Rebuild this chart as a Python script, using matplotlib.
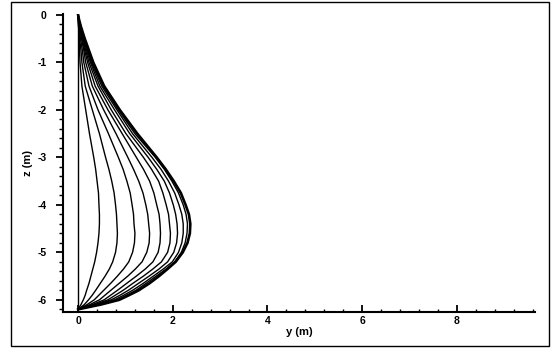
import matplotlib
matplotlib.use("Agg")
import matplotlib.pyplot as plt
from matplotlib.patches import Rectangle
from matplotlib.ticker import MultipleLocator

plt.rcParams['font.family'] = ['Liberation Sans', 'DejaVu Sans']
plt.rcParams['font.weight'] = 'bold'
plt.rcParams['axes.unicode_minus'] = False

# depth levels (m), shared by every profile
z_levels = [0.0, -0.1, -0.25, -0.5, -0.75, -1.0, -1.5, -2.0, -2.5, -3.0,
            -3.25, -3.5, -3.75, -4.0, -4.2, -4.4, -4.6, -4.8, -5.0, -5.2,
            -5.35, -5.5, -5.65, -5.8, -5.9, -6.0, -6.1, -6.2]

# lateral displacement y (m) at each depth, one list per time step
y_t0 = [0.0] * len(z_levels)
y_t1 = [0, 0.00, 0.01, 0.02, 0.03, 0.04, 0.08, 0.16, 0.24, 0.33,
        0.37, 0.40, 0.43, 0.44, 0.45, 0.45, 0.44, 0.42, 0.39, 0.35,
        0.31, 0.27, 0.23, 0.18, 0.15, 0.11, 0.06, 0]
y_t2 = [0, 0.00, 0.01, 0.03, 0.06, 0.08, 0.15, 0.30, 0.45, 0.58,
        0.65, 0.71, 0.76, 0.79, 0.81, 0.82, 0.83, 0.82, 0.79, 0.73,
        0.66, 0.57, 0.47, 0.37, 0.30, 0.22, 0.13, 0]
y_t3 = [0, 0.01, 0.02, 0.05, 0.09, 0.12, 0.23, 0.42, 0.64, 0.85,
        0.95, 1.03, 1.10, 1.14, 1.17, 1.18, 1.20, 1.19, 1.15, 1.07,
        0.96, 0.83, 0.69, 0.54, 0.44, 0.34, 0.19, 0]
y_t4 = [0, 0.01, 0.03, 0.07, 0.12, 0.16, 0.30, 0.54, 0.80, 1.05,
        1.17, 1.28, 1.37, 1.43, 1.47, 1.49, 1.51, 1.50, 1.45, 1.35,
        1.21, 1.05, 0.87, 0.69, 0.57, 0.45, 0.25, 0]
y_t5 = [0, 0.01, 0.04, 0.09, 0.14, 0.20, 0.36, 0.63, 0.93, 1.23,
        1.38, 1.51, 1.60, 1.66, 1.71, 1.73, 1.74, 1.73, 1.69, 1.58,
        1.42, 1.23, 1.03, 0.83, 0.69, 0.55, 0.30, 0]
y_t6 = [0, 0.01, 0.04, 0.10, 0.16, 0.23, 0.42, 0.70, 1.01, 1.38,
        1.55, 1.70, 1.79, 1.86, 1.91, 1.93, 1.95, 1.94, 1.89, 1.76,
        1.58, 1.38, 1.16, 0.95, 0.79, 0.63, 0.35, 0]
y_t7 = [0, 0.02, 0.05, 0.11, 0.18, 0.26, 0.46, 0.77, 1.09, 1.48,
        1.66, 1.82, 1.93, 2.01, 2.06, 2.09, 2.10, 2.08, 2.02, 1.89,
        1.71, 1.50, 1.28, 1.06, 0.89, 0.70, 0.39, 0]
y_t8 = [0, 0.02, 0.05, 0.12, 0.20, 0.28, 0.50, 0.82, 1.15, 1.56,
        1.75, 1.91, 2.04, 2.13, 2.19, 2.22, 2.22, 2.19, 2.12, 1.99,
        1.80, 1.59, 1.38, 1.15, 0.97, 0.77, 0.43, 0]
y_t9 = [0, 0.02, 0.06, 0.13, 0.22, 0.30, 0.53, 0.85, 1.20, 1.63,
        1.82, 1.98, 2.12, 2.22, 2.28, 2.31, 2.30, 2.26, 2.18, 2.04,
        1.86, 1.65, 1.44, 1.22, 1.03, 0.83, 0.46, 0]
y_t10 = [0, 0.02, 0.06, 0.14, 0.23, 0.32, 0.55, 0.88, 1.25, 1.66,
         1.85, 2.02, 2.17, 2.27, 2.34, 2.37, 2.36, 2.31, 2.21, 2.06,
         1.89, 1.71, 1.51, 1.28, 1.08, 0.87, 0.48, 0]

profiles = [y_t0, y_t1, y_t2, y_t3, y_t4, y_t5, y_t6, y_t7, y_t8, y_t9, y_t10]

x_ticks = [0, 2, 4, 6, 8]
z_ticks = [0, -1, -2, -3, -4, -5, -6]

fig = plt.figure(figsize=(5.51, 3.49), dpi=100)
ax = fig.add_axes([0.1143, 0.1069, 0.8566, 0.853])

for i, prof in enumerate(profiles):
    lw = 1.9 if i == len(profiles) - 1 else 1.0
    ax.plot(prof, z_levels, color='black', lw=lw, solid_joinstyle='round')

ax.set_xlim(-0.32, 9.65)
ax.set_ylim(-6.25, 0.02)

for side in ('top', 'right'):
    ax.spines[side].set_visible(False)
for side in ('left', 'bottom'):
    ax.spines[side].set_linewidth(1.5)

ax.set_xticks(x_ticks)
ax.set_yticks(z_ticks)
ax.xaxis.set_minor_locator(MultipleLocator(0.4))
ax.yaxis.set_minor_locator(MultipleLocator(0.2))

ax.tick_params(axis='x', which='major', direction='in', length=5, width=1.3,
               labelsize=7.5, pad=3)
ax.tick_params(axis='x', which='minor', direction='in', length=2.5, width=1.0)
ax.tick_params(axis='y', which='major', direction='out', length=5, width=1.3,
               labelsize=7.5, pad=7)
ax.tick_params(axis='y', which='minor', direction='out', length=3, width=1.0)

for lab in ax.get_xticklabels() + ax.get_yticklabels():
    lab.set_fontweight('bold')

ax.set_xlabel('y (m)', fontsize=8, fontweight='bold', labelpad=1)
ax.set_ylabel('z (m)', fontsize=8, fontweight='bold', labelpad=3)

# frame around the whole figure
fig.patches.append(Rectangle((11 / 551, 3 / 349), 538 / 551, 344 / 349,
                             transform=fig.transFigure, fill=False,
                             edgecolor='black', lw=1.0))

fig.savefig('out.png', dpi=100)
